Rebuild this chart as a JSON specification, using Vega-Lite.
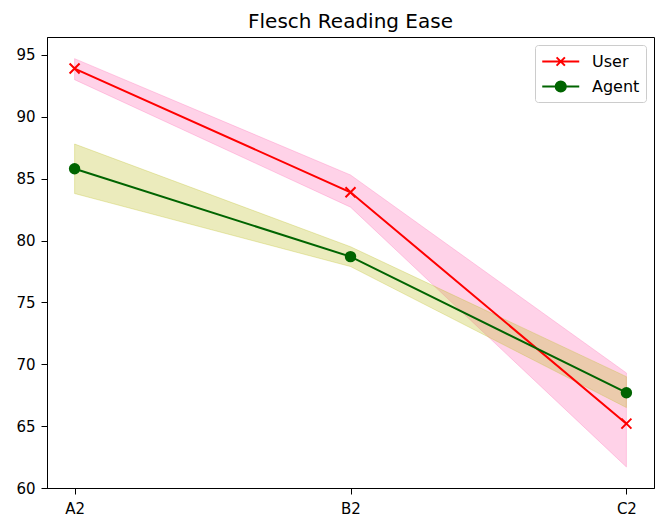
{
  "$schema": "https://vega.github.io/schema/vega-lite/v6.json",
  "width": 607,
  "height": 451,
  "autosize": {"type": "none"},
  "padding": {"left": 47, "top": 37, "right": 8, "bottom": 29},
  "background": "white",
  "title": {"text": "Flesch Reading Ease", "font": "DejaVu Sans", "fontSize": 20, "fontWeight": "normal", "color": "black", "anchor": "middle", "offset": 5},
  "config": {
    "view": {"stroke": "black", "strokeWidth": 1},
    "axis": {"domainColor": "black", "tickColor": "black", "labelColor": "black", "labelFont": "DejaVu Sans", "labelFontSize": 15, "tickSize": 6, "grid": false, "labelPadding": 6, "title": null},
    "legend": {"labelFont": "DejaVu Sans", "labelFontSize": 16, "labelColor": "black"}
  },
  "data": {"values": [
    {"level": "A2", "series": "User", "mean": 93.9, "lo": 93.0, "hi": 94.7},
    {"level": "B2", "series": "User", "mean": 83.9, "lo": 82.7, "hi": 85.3},
    {"level": "C2", "series": "User", "mean": 65.2, "lo": 61.7, "hi": 69.3},
    {"level": "A2", "series": "Agent", "mean": 85.8, "lo": 83.8, "hi": 87.8},
    {"level": "B2", "series": "Agent", "mean": 78.7, "lo": 77.9, "hi": 79.5},
    {"level": "C2", "series": "Agent", "mean": 67.7, "lo": 66.5, "hi": 69.0}
  ]},
  "encoding": {
    "x": {"field": "level", "type": "ordinal", "sort": ["A2", "B2", "C2"], "scale": {"type": "point", "padding": 0.1}, "axis": {"labelAngle": 0, "labelPadding": 7}}
  },
  "layer": [
    {
      "transform": [{"filter": "datum.series == 'User'"}],
      "mark": {"type": "area", "color": "#ff69b4", "fillOpacity": 0.3, "stroke": "#ff69b4", "strokeOpacity": 0.3, "strokeWidth": 1},
      "encoding": {
        "y": {"field": "lo", "type": "quantitative", "scale": {"domain": [60, 96.45], "nice": false, "zero": false}, "axis": {"values": [60, 65, 70, 75, 80, 85, 90, 95]}},
        "y2": {"field": "hi"}
      }
    },
    {
      "transform": [{"filter": "datum.series == 'Agent'"}],
      "mark": {"type": "area", "color": "#bcbd22", "fillOpacity": 0.3, "stroke": "#bcbd22", "strokeOpacity": 0.3, "strokeWidth": 1},
      "encoding": {
        "y": {"field": "lo", "type": "quantitative"},
        "y2": {"field": "hi"}
      }
    },
    {
      "mark": {"type": "line", "strokeWidth": 2},
      "encoding": {
        "y": {"field": "mean", "type": "quantitative"},
        "color": {
          "field": "series", "type": "nominal",
          "scale": {"domain": ["User", "Agent"], "range": ["#ff0000", "#006400"]},
          "legend": {
            "title": null,
            "orient": "top-right",
            "offset": 8,
            "padding": 6,
            "fillColor": "white",
            "strokeColor": "#cccccc",
            "cornerRadius": 3,
            "symbolSize": 342,
            "symbolStrokeWidth": 2,
            "labelOffset": 30,
            "rowPadding": 6,
            "encode": {
              "symbols": {
                "update": {
                  "shape": {"signal": "datum.value == 'User' ? 'M-1,0H3M0.55,-0.45L1.45,0.45M0.55,0.45L1.45,-0.45' : 'M-1,0H3M1.55,0A0.55,0.55 0 1 1 0.45,0A0.55,0.55 0 1 1 1.55,0Z'"},
                  "fill": {"signal": "datum.value == 'User' ? '#ff0000' : '#006400'"},
                  "stroke": {"signal": "datum.value == 'User' ? '#ff0000' : '#006400'"},
                  "strokeWidth": {"value": 2},
                  "opacity": {"value": 1}
                }
              }
            }
          }
        }
      }
    },
    {
      "transform": [{"filter": "datum.series == 'User'"}],
      "mark": {"type": "point", "shape": "M-1,-1L1,1M-1,1L1,-1", "filled": false, "stroke": "#ff0000", "strokeWidth": 2, "size": 100, "opacity": 1},
      "encoding": {"y": {"field": "mean", "type": "quantitative"}}
    },
    {
      "transform": [{"filter": "datum.series == 'Agent'"}],
      "mark": {"type": "point", "shape": "circle", "filled": true, "color": "#006400", "size": 130, "opacity": 1},
      "encoding": {"y": {"field": "mean", "type": "quantitative"}}
    }
  ]
}
